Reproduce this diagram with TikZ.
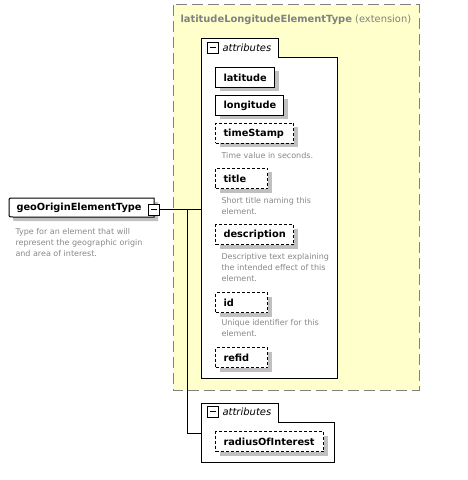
\documentclass[tikz,border=0pt]{standalone}
\usepackage{fontspec}
\setmainfont{DejaVu Sans}
\usetikzlibrary{shadows}
\definecolor{ylw}{RGB}{255,255,204}
\definecolor{docgray}{RGB}{136,136,136}
\definecolor{ttlgray}{RGB}{128,128,128}
\definecolor{shd}{RGB}{192,192,192}
\begin{document}
\begin{tikzpicture}[x=1bp,y=-1bp,line width=1bp,
  shadowed/.style={general shadow={fill=shd,draw=none,shadow xshift=4bp,shadow yshift=-4bp}},
  elem/.style={draw,fill=white,anchor=north west,minimum height=20bp,inner xsep=8bp,inner ysep=0pt,
    font=\fontsize{9.8bp}{12bp}\selectfont\bfseries,shadowed},
  opt/.style={dash pattern=on 3bp off 2bp},
  doc/.style={anchor=north west,inner sep=0pt,text=docgray,font=\fontsize{8bp}{10.8bp}\selectfont,align=left},
  minus/.style={draw,fill=white,minimum size=11bp,inner sep=0pt,line width=0.8bp,
    path picture={\draw[line width=0.8bp] ([xshift=2.5bp]path picture bounding box.west) -- ([xshift=-2.5bp]path picture bounding box.east);}},
  attlabel/.style={anchor=west,inner sep=0pt,font=\fontsize{10bp}{12bp}\selectfont\itshape},
  conn/.style={line width=1bp}]
\useasboundingbox (0,0) rectangle (468,480);

% extension (yellow) box
\draw[fill=ylw,draw=ttlgray,dash pattern=on 11bp off 5bp] (173,5) rectangle (419,390);
\node[anchor=west,inner sep=0pt,text=ttlgray,font=\fontsize{9.9bp}{12bp}\selectfont] (exttitle) at (180,20)
  {\textbf{latitudeLongitudeElementType} (extension)};

% attributes group 1
\draw[fill=white] (201,39) -- (278,39) -- (278,58) -- (337,58) -- (337,378) -- (201,378) -- cycle;
\node[minus] (icon1) at (212.5,47.5) {};
\node[attlabel] (att1lbl) at (222,48) {attributes};
\coordinate (att1w) at (201,209.5);

\node[elem] (latitude) at (215,67) {\makebox[43bp][l]{latitude}};
\node[elem] (longitude) at (215,95) {\makebox[52bp][l]{longitude}};
\node[elem,opt] (timeStamp) at (215,123) {\makebox[62bp][l]{timeStamp}};
\node[doc] (timeStampdoc) at (221,151.5) {Time value in seconds.};
\node[elem,opt] (title) at (215,168) {\makebox[36bp][l]{title}};
\node[doc] (titledoc) at (221,197) {Short title naming this\\element.};
\node[elem,opt] (description) at (215,224) {\makebox[62bp][l]{description}};
\node[doc] (descdoc) at (221,253) {Descriptive text explaining\\the intended effect of this\\element.};
\node[elem,opt] (id) at (215,292) {\makebox[36bp][l]{id}};
\node[doc] (iddoc) at (221,319) {Unique identifier for this\\element.};
\node[elem,opt] (refid) at (215,347) {\makebox[36bp][l]{refid}};

% attributes group 2
\draw[fill=white] (201,403) -- (278,403) -- (278,422) -- (334,422) -- (334,462) -- (201,462) -- cycle;
\node[minus] (icon2) at (212.5,411.5) {};
\node[attlabel] (att2lbl) at (222,412) {attributes};
\coordinate (att2w) at (201,433);
\node[elem,opt] (radius) at (215,431) {\makebox[92bp][l]{radiusOfInterest}};

% main element
\draw[fill=white,shadowed] (154,198) -- (13,198) .. controls (9,198) .. (9,202) -- (9,213)
  .. controls (9,217) .. (13,217) -- (154,217) -- cycle;
\node[anchor=west,inner sep=0pt,font=\fontsize{9.8bp}{12bp}\selectfont\bfseries] (geo) at (16,208) {geoOriginElementType};
\node[doc] (geodoc) at (15,228) {Type for an element that will\\represent the geographic origin\\and area of interest.};
\node[minus] (geoicon) at (153.5,209.5) {};

% connectors
\coordinate (junc) at (187,209.5);
\draw[conn] (geoicon.east) -- (att1w);
\draw[conn] (junc) |- (att2w);
\end{tikzpicture}
\end{document}
